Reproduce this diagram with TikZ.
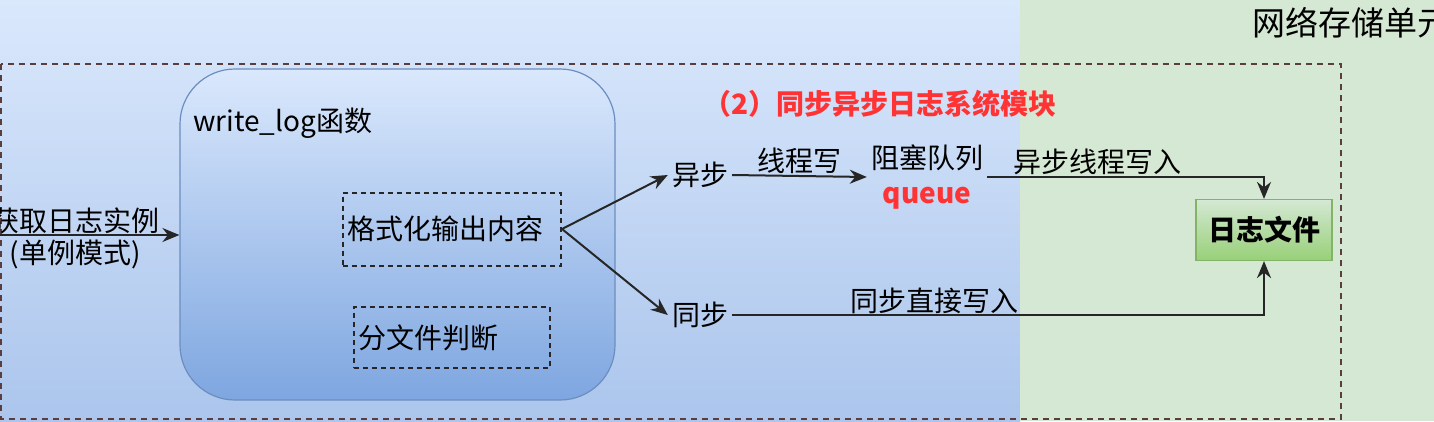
\documentclass[tikz,border=0pt]{standalone}
\usepackage{fontspec}
\setmainfont{Noto Sans CJK SC}
\usetikzlibrary{arrows.meta,positioning}
\definecolor{bluetop}{HTML}{DAE8FC}
\definecolor{bluebot}{HTML}{ABC5EC}
\definecolor{funcbot}{HTML}{7EA6E0}
\definecolor{funcline}{HTML}{6C8EBF}
\definecolor{greenbg}{HTML}{D5E8D4}
\definecolor{greenbot}{HTML}{97D077}
\definecolor{greenline}{HTML}{82B366}
\definecolor{framecol}{HTML}{5A3D3D}
\definecolor{redtxt}{HTML}{FF3333}
\begin{document}
\begin{tikzpicture}[x=1pt,y=-1pt,
    txt/.style={font=\fontsize{28}{35}\selectfont,inner sep=4pt},
    flow/.style={-{Stealth[length=17pt,width=14pt]},line width=2pt,draw=black!85},
    dashbox/.style={draw=black!85,line width=2pt,dash pattern=on 5pt off 4pt,
      inner xsep=4pt,align=left,font=\fontsize{28}{30}\selectfont}]
    \useasboundingbox (0,0) rectangle (1434,421);
    %backgrounds
    \shade [top color=bluetop,bottom color=bluebot] (0,0) rectangle (1020,421);
    \fill [greenbg] (1020,0) rectangle (1434,421);
    \node [font=\fontsize{33}{36}\selectfont,anchor=west,inner sep=0pt] (unit) at (1252,23) {网络存储单元};
    %module frame
    \draw [framecol,line width=2pt,dash pattern=on 6pt off 5pt] (1,64) rectangle (1341,419);
    \node [font=\bfseries\fontsize{28}{30}\selectfont,text=redtxt] (title) at (880,104) {（2）同步异步日志系统模块};
    %write_log function
    \node [draw=funcline,line width=1.2pt,rounded corners=55pt,top color=bluetop,bottom color=funcbot,
      minimum width=435pt,minimum height=331pt] (wl) at (397.5,234.5) {};
    \node [txt,anchor=west,inner sep=0pt] (wltitle) at (193,123) {write\_log函数};
    \node [dashbox,text width=210pt,minimum height=73pt] (fmt) at (452,229) {格式化输出内容};
    \node [dashbox,text width=188pt,minimum height=61pt] (split) at (452,337.5) {分文件判断};
    %entry
    \coordinate (entry) at (0,235);
    \node [txt,align=center,inner sep=0pt] (get) at (75,238) {获取日志实例\\[-3pt](单例模式)};
    \draw [flow] (entry) -- (entry -| wl.west);
    %branches
    \node [txt] (async) at (700,175) {异步};
    \node [txt] (sync) at (700,315) {同步};
    \draw [flow] (fmt.east) -- (async.west);
    \draw [flow] (fmt.east) -- (sync.west);
    \node [txt,align=center] (queue) at (927,177) {阻塞队列\\{\bfseries\color{redtxt}queue}};
    \node [draw=greenline,line width=1.2pt,top color=greenbg,bottom color=greenbot,
      minimum width=136pt,minimum height=61pt,font=\bfseries\fontsize{28}{30}\selectfont] (logfile) at (1264,230) {日志文件};
    \draw [flow] (async.east) -- node [txt,above=-3pt] {线程写} (queue.west);
    \draw [flow] (queue.east) -| node [txt,pos=0.2,above=-3pt] {异步线程写入} (logfile.north);
    \draw [flow] (sync.east) -| node [txt,pos=0.19,above=-4pt] {同步直接写入} (logfile.south);
  \end{tikzpicture}
\end{document}
